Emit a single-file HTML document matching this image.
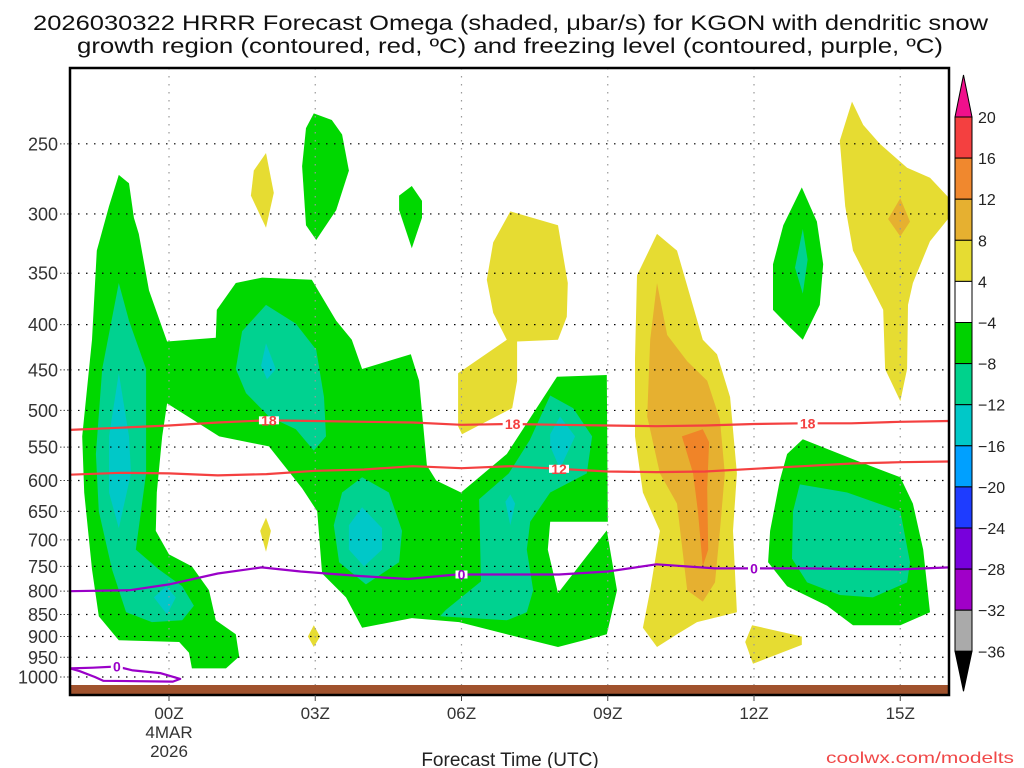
<!DOCTYPE html>
<html><head><meta charset="utf-8"><style>
html,body{margin:0;padding:0;background:#fff;width:1024px;height:768px;overflow:hidden}
svg text{font-family:"Liberation Sans",sans-serif}
</style></head><body>
<svg id="chart" width="1024" height="768" viewBox="0 0 1024 768" xmlns="http://www.w3.org/2000/svg">
<text x="33" y="30" font-size="21" textLength="955" lengthAdjust="spacingAndGlyphs" fill="#111">2026030322 HRRR Forecast Omega (shaded, μbar/s) for KGON with dendritic snow</text>
<text x="77" y="53" font-size="21" textLength="866" lengthAdjust="spacingAndGlyphs" fill="#111">growth region (contoured, red, ºC) and freezing level (contoured, purple, ºC)</text>
<g id="fills"></g>
<g id="grid"></g>
<g id="lines"></g>
<rect x="70" y="685" width="879" height="10" fill="#a0522d"/>
<rect x="70" y="68" width="879" height="627" fill="none" stroke="#000" stroke-width="2.5"/>
<g id="axes"></g>
<text x="510" y="766" font-size="19" text-anchor="middle" fill="#222">Forecast Time (UTC)</text>
<text x="826" y="763" font-size="16" textLength="188" lengthAdjust="spacingAndGlyphs" fill="#f04848">coolwx.com/modelts</text>
<g id="cbar"></g>
</svg>
<script>
const pTicks=[250,300,350,400,450,500,550,600,650,700,750,800,850,900,950,1000];
const hTicks=[0,3,6,9,12,15];
const hLabels=["00Z","03Z","06Z","09Z","12Z","15Z"];
const cbLevels=["20","16","12","8","4","−4","−8","−12","−16","−20","−24","−28","−32","−36"];
const cbColors=["#f44040","#f0882e","#e6b030","#e6dc32","#ffffff","#00d200","#00d28c","#00c8c8","#00a0ff","#1e3cff","#7800dc","#a000c8","#aaaaaa"];
const cGreen="#00d800",cTeal="#00d290",cCyan="#00c8c8",cYel="#e6dc32",cGold="#e6b030",cOr="#f08428";
const greenMain=[[-1.03,271],[-0.82,277],[-0.72,303],[-0.62,316],[-0.41,366],[-0.04,418],[0.96,414],[0.98,385],[1.37,359],[1.91,354],[2.93,356],[3.43,396],[3.75,416],[3.96,449],[4.96,432],[5.13,463],[5.29,577],[5.48,600],[5.99,619],[6.93,560],[7.96,458],[8.98,456],[9.0,668],[7.82,668],[7.77,718],[7.98,804],[8.98,683],[9.19,798],[8.98,895],[7.98,925],[6.93,895],[5.95,867],[4.98,858],[3.96,880],[3.63,813],[3.14,764],[3.04,650],[2.73,612],[2.05,549],[1.03,535],[-0.04,491],[-0.14,535],[-0.25,619],[-0.27,684],[0,727],[0.47,750],[0.82,798],[0.96,863],[1.37,895],[1.44,948],[1.17,978],[0.47,978],[0.41,939],[0.21,913],[-1.03,909],[-1.44,854],[-1.58,756],[-1.74,619],[-1.78,535],[-1.58,416],[-1.48,330],[-1.23,294]];
const greenRight=[[13.0,539],[14.11,570],[15.0,595],[15.26,637],[15.47,718],[15.61,845],[15.0,874],[14.03,874],[13.5,831],[12.68,790],[12.29,742],[12.33,684],[12.53,600],[12.68,560]];
const greenOval=[[12.98,280],[13.29,306],[13.42,342],[13.35,380],[13.0,416],[12.74,403],[12.39,385],[12.39,342],[12.6,309]];
const greenTop=[[2.97,231],[3.34,235],[3.55,244],[3.69,268],[3.43,297],[3.02,321],[2.81,309],[2.73,265],[2.81,240]];
const greenDrop=[[4.98,279],[5.19,290],[5.19,303],[4.98,328],[4.72,297],[4.72,286]];
const teal1=[[-1.03,359],[-0.82,396],[-0.47,449],[-0.47,589],[-0.68,718],[-0.21,756],[0.27,790],[0.51,831],[0.27,863],[-0.35,867],[-0.88,845],[-1.17,756],[-1.44,650],[-1.5,560],[-1.37,449]];
const teal2=[[1.99,380],[2.6,399],[3.02,427],[3.18,483],[3.22,535],[2.97,555],[2.6,525],[2.05,508],[1.58,478],[1.37,449],[1.5,407]];
const teal3=[[3.96,595],[4.51,619],[4.78,684],[4.72,742],[4.04,786],[3.49,742],[3.38,674],[3.55,619]];
const teal4=[[6.97,589],[7.4,540],[7.82,481],[8.29,497],[8.68,535],[8.57,589],[7.82,619],[7.41,668],[7.34,718],[7.47,798],[7.34,845],[6.93,863],[5.56,854],[5.68,840],[6.4,780],[6.36,630]];
const tealRight=[[12.94,606],[13.91,619],[15.0,650],[15.2,742],[15.14,782],[14.44,813],[13.76,808],[13.09,782],[12.78,735],[12.8,650]];
const tealOval=[[13.0,312],[13.1,338],[13.0,369],[12.84,345]];
const cyan1=[[-1.03,454],[-0.82,535],[-0.78,589],[-1.03,679],[-1.23,619],[-1.23,535]];
const cyan1b=[[-0.31,813],[-0.06,790],[0.14,813],[-0.04,850]];
const cyan2=[[1.99,420],[2.19,449],[2.01,461],[1.89,445]];
const cyan3=[[3.96,643],[4.37,679],[4.37,718],[4.0,750],[3.69,718],[3.69,674]];
const cyan4=[[8.02,508],[8.33,535],[8.16,560],[8.02,582],[7.82,549],[7.82,532]];
const cyan4b=[[7.0,622],[7.1,637],[7.0,674],[6.9,634]];
const yel1=[[1.99,256],[2.15,284],[1.99,311],[1.68,286],[1.74,268]];
const yel2=[[1.99,661],[2.09,684],[1.99,722],[1.87,684]];
const yel3=[[2.97,874],[3.1,900],[2.97,925],[2.85,900]];
const yel4=[[7.0,298],[7.98,309],[8.18,359],[8.16,392],[7.98,416],[7.14,418],[7.14,463],[7.04,497],[6.01,532],[5.93,521],[5.93,454],[6.93,416],[6.65,388],[6.52,356],[6.65,323]];
const yel5=[[10.01,316],[10.42,330],[10.95,416],[11.24,432],[11.51,483],[11.65,589],[11.57,684],[11.65,845],[10.83,867],[10.42,895],[10.01,925],[9.72,880],[9.87,798],[10.07,684],[9.72,619],[9.56,535],[9.56,437],[9.6,352]];
const gold5=[[10.01,359],[10.22,411],[10.63,440],[11.04,463],[11.3,512],[11.4,589],[11.3,684],[11.2,782],[10.95,822],[10.63,798],[10.42,637],[10.07,589],[9.81,508],[9.87,416]];
const or5=[[10.52,535],[10.95,525],[11.08,543],[11.04,612],[11.06,718],[10.95,750],[10.85,650],[10.75,589]];
const yel6=[[14.01,224],[14.24,238],[14.58,250],[15.14,266],[15.61,273],[15.98,287],[15.98,304],[15.61,322],[15.26,359],[15.16,380],[15.14,449],[15.0,488],[14.69,449],[14.65,385],[14.03,330],[13.87,294],[13.76,248]];
const gold6=[[15.0,288],[15.2,306],[15.0,318],[14.75,304]];
const yel7=[[11.96,874],[12.98,900],[12.98,920],[11.98,966],[11.82,913]];
const lineHours=[-2.05,-1,0,1,2,3,4,5,6,7,8,9,10,11,12,13,14,15,16];
const m18=[526,523,520,516,513,514,515,516,519,518,519,520,521,520,518,517,517,515,514];
const m12=[591,588,589,592,590,585,583,578,581,578,582,586,587,586,582,578,574,572,571];
const frzHours=[-2.05,-0.8,0,1,1.9,2.7,3.9,4.9,5.9,8,9,10,11.2,13,15,16];
const frzP=[800,798,786,764,752,760,769,775,766,766,760,746,754,754,756,752];
const loopHours=[-2.03,-1.56,-1.07,-0.74,-0.18,0.23,0.08,-1.35,-1.52,-1.83,-2.03];
const loopP=[978,976,973,983,990,1005,1012,1010,1000,985,978];

const NS="http://www.w3.org/2000/svg";
const X=h=>169+h*48.75;
const Y=p=>677-384.6*Math.log(1000/p);
function mk(tag,attrs,parent){const e=document.createElementNS(NS,tag);for(const k in attrs)e.setAttribute(k,attrs[k]);parent.appendChild(e);return e;}
const fills=document.getElementById('fills');
const cp=mk('clipPath',{id:'clip'},fills);
mk('rect',{x:70,y:68,width:879,height:627},cp);
function poly(pts,color,name){
  const e=mk('polygon',{points:pts.map(q=>X(q[0]).toFixed(1)+','+Y(q[1]).toFixed(1)).join(' '),fill:color,'clip-path':'url(#clip)'},fills);
  
  
}
poly(greenMain,cGreen,'omega-region-green-main');poly(greenRight,cGreen,'omega-region-green-right');
poly(greenOval,cGreen,'omega-region-green-oval');poly(greenTop,cGreen,'omega-region-green-top');poly(greenDrop,cGreen,'omega-region-green-drop');
poly(teal1,cTeal,'omega-region-teal-1');poly(teal2,cTeal,'omega-region-teal-2');poly(teal3,cTeal,'omega-region-teal-3');poly(teal4,cTeal,'omega-region-teal-4');poly(tealRight,cTeal,'omega-region-teal-right');poly(tealOval,cTeal,'omega-region-teal-oval');
poly(cyan1,cCyan,'omega-region-cyan-1');poly(cyan1b,cCyan,'omega-region-cyan-1b');poly(cyan2,cCyan,'omega-region-cyan-2');poly(cyan3,cCyan,'omega-region-cyan-3');poly(cyan4,cCyan,'omega-region-cyan-4');poly(cyan4b,cCyan,'omega-region-cyan-4b');
poly(yel1,cYel,'omega-region-yellow-1');poly(yel2,cYel,'omega-region-yellow-2');poly(yel3,cYel,'omega-region-yellow-3');poly(yel4,cYel,'omega-region-yellow-4');poly(yel5,cYel,'omega-region-yellow-5');poly(gold5,cGold,'omega-region-gold-5');poly(or5,cOr,'omega-region-orange-5');poly(yel6,cYel,'omega-region-yellow-6');poly(gold6,cGold,'omega-region-gold-6');poly(yel7,cYel,'omega-region-yellow-7');

const grid=document.getElementById('grid'),axes=document.getElementById('axes');
pTicks.forEach(p=>{
  const y=Y(p);
  const g=mk('line',{x1:70,x2:949,y1:y,y2:y,stroke:'#000','stroke-width':1.2,'stroke-dasharray':'1.5 6.5'},grid);
  
  
  const t=mk('line',{x1:60,x2:70,y1:y,y2:y,stroke:'#444','stroke-width':1,'stroke-dasharray':'1.5 2'},axes);
  
  
  const l=mk('text',{x:58,y:y+6.5,'font-size':18,'text-anchor':'end',fill:'#333'},axes);l.textContent=p;
  
  
});
hTicks.forEach((h,i)=>{
  const x=X(h);
  const g=mk('line',{x1:x,x2:x,y1:68,y2:695,stroke:'#999','stroke-width':1.2,'stroke-dasharray':'1.5 6.5'},grid);
  
  
  const t=mk('line',{x1:x,x2:x,y1:695,y2:701,stroke:'#444','stroke-width':1},axes);
  
  
  const l=mk('text',{x:x,y:719,'font-size':17,'text-anchor':'middle',fill:'#333'},axes);l.textContent=hLabels[i];
  
  
});
const d1=mk('text',{x:X(0),y:738,'font-size':17,'text-anchor':'middle',fill:'#333'},axes);d1.textContent='4MAR';


const d2=mk('text',{x:X(0),y:757,'font-size':17,'text-anchor':'middle',fill:'#333'},axes);d2.textContent='2026';



const lines=document.getElementById('lines');
function pl(hs,ps,color,name){
  const e=mk('polyline',{points:hs.map((h,i)=>X(h).toFixed(1)+','+Y(ps[i]).toFixed(1)).join(' '),fill:'none',stroke:color,'stroke-width':2.2,'stroke-linejoin':'round','clip-path':'url(#clip)'},lines);
  
  
}
pl(lineHours,m18,'#f44040','contour-minus-18');
pl(lineHours,m12,'#f44040','contour-minus-12');
pl(frzHours,frzP,'#9a00c8','freezing-level-0');
pl(loopHours,loopP,'#9a00c8','freezing-level-0-loop');
function lab(h,hs,ps,txt,color,name,w){
  let i=0;while(i<hs.length-2&&hs[i+1]<h)i++;
  const p=ps[i]+(ps[i+1]-ps[i])*(h-hs[i])/(hs[i+1]-hs[i]);
  const x=X(h),y=Y(p);
  mk('rect',{x:x-w/2,y:y-4,width:w,height:8,fill:'#fff'},lines);
  const t=mk('text',{x:x,y:y+5,'font-size':14,'font-weight':'bold','text-anchor':'middle',fill:color},lines);t.textContent=txt;
  
  
}
lab(2.05,lineHours,m18,'18','#f44040','label-minus-18-a',20);
lab(7.05,lineHours,m18,'18','#f44040','label-minus-18-b',20);
lab(13.1,lineHours,m18,'18','#f44040','label-minus-18-c',20);
lab(8.0,lineHours,m12,'12','#f44040','label-minus-12',20);
lab(6.0,frzHours,frzP,'0','#9a00c8','label-freezing-a',12);
lab(12.0,frzHours,frzP,'0','#9a00c8','label-freezing-b',12);
lab(-1.07,loopHours.slice(0,6),loopP.slice(0,6),'0','#9a00c8','label-freezing-c',12);

const cb=document.getElementById('cbar');
const cbTop=117,cbStep=41.1,cbX=955,cbW=17;
cbColors.forEach((c,i)=>{
  const r=mk('rect',{x:cbX,y:cbTop+i*cbStep,width:cbW,height:cbStep,fill:c,stroke:'#000','stroke-width':1},cb);
  
  
});
const tt=mk('polygon',{points:`${cbX},${cbTop} ${cbX+cbW},${cbTop} ${cbX+cbW/2},${cbTop-42}`,fill:'#f0108c',stroke:'#000','stroke-width':1},cb);


const bt=cbTop+cbColors.length*cbStep;
const bb=mk('polygon',{points:`${cbX},${bt} ${cbX+cbW},${bt} ${cbX+cbW/2},${bt+40}`,fill:'#000',stroke:'#000','stroke-width':1},cb);


cbLevels.forEach((s,i)=>{
  const t=mk('text',{x:978,y:cbTop+i*cbStep+6,'font-size':16,fill:'#222'},cb);t.textContent=s;
  
  
});
</script>
</body></html>
